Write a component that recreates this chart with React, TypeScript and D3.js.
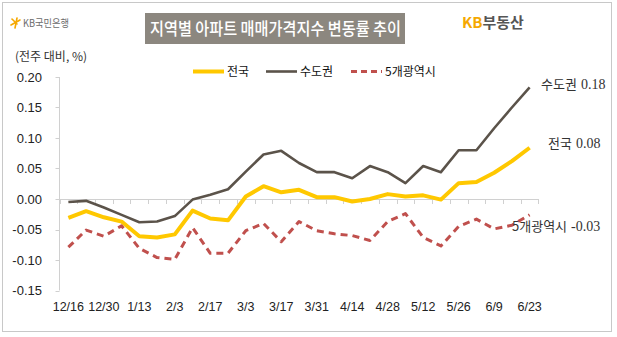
import React from 'react';
import * as d3 from 'd3';

const categories = ['12/16','12/23','12/30','1/6','1/13','1/20','2/3','2/10','2/17','2/24','3/3','3/10','3/17','3/24','3/31','4/7','4/14','4/21','4/28','5/5','5/12','5/19','5/26','6/2','6/9','6/16','6/23'];
const capital = [-0.005,-0.003,-0.014,-0.026,-0.038,-0.037,-0.028,-0.001,0.007,0.016,0.045,0.073,0.079,0.059,0.044,0.044,0.034,0.054,0.044,0.026,0.054,0.044,0.080,0.080,0.116,0.150,0.183];
const nation = [-0.031,-0.020,-0.030,-0.037,-0.061,-0.063,-0.058,-0.019,-0.032,-0.035,0.004,0.021,0.011,0.015,0.003,0.003,-0.004,0.000,0.008,0.004,0.006,-0.001,0.026,0.028,0.043,0.062,0.084];
const metro = [-0.079,-0.051,-0.061,-0.044,-0.081,-0.096,-0.099,-0.047,-0.089,-0.089,-0.052,-0.040,-0.070,-0.037,-0.052,-0.057,-0.060,-0.068,-0.037,-0.024,-0.063,-0.077,-0.045,-0.033,-0.049,-0.043,-0.026];
const yTicks = [0.20,0.15,0.10,0.05,0.00,-0.05,-0.10,-0.15];
const seriesNames = ['전국','수도권','5개광역시'];
const endNames = ['전국','수도권','5개광역시'];
const endValues = ['0.08','0.18','-0.03'];

const W = 617, H = 337;
const SANS = '"Liberation Sans", "Noto Sans CJK KR", sans-serif';
const KR = '"Noto Sans CJK KR", sans-serif';
const SERIF = '"Liberation Serif", "DejaVu Serif", serif';

export default function App() {
  const x = d3.scaleBand<string>().domain(categories).range([59.5, 538.5]).padding(0);
  const y = d3.scaleLinear().domain([-0.15, 0.20]).range([290.5, 77]);
  const cx = (i: number) => (x(categories[i]) as number) + x.bandwidth() / 2;
  const line = d3.line<number>().x((_, i) => cx(i)).y(d => y(d));

  const series = [
    { name: seriesNames[0], data: nation, color: '#FFC800', width: 4, dash: undefined as string | undefined },
    { name: seriesNames[1], data: capital, color: '#5B534A', width: 2.6, dash: undefined },
    { name: seriesNames[2], data: metro, color: '#C0504D', width: 3, dash: '7,5' },
  ];

  const y0 = y(0);
  const axisColor = '#d0d0d0';
  const endPos = [
    { x: 548, y: 148 },
    { x: 541, y: 89 },
    { x: 512, y: 231 },
  ];

  return (
    <svg width={W} height={H} style={{ position: 'absolute', left: 0, top: 0, background: '#fff' }}>
      <rect x={2.5} y={2.5} width={609} height={329} fill="#fff" stroke="#c8c8c8" strokeWidth={1} />

      {/* KB 국민은행 logo */}
      <g transform="translate(12,23)">
        <g stroke="#F5A800" strokeWidth={1.6} strokeLinecap="round">
          <line x1={0} y1={-4} x2={5} y2={1} />
          <line x1={5} y1={-5} x2={3} y2={5} />
          <line x1={-1} y1={2} x2={8} y2={-3} />
        </g>
        <text x={11} y={4} fontFamily={KR} fontSize={10.5} fill="#6b6b6b" textLength={46} lengthAdjust="spacingAndGlyphs">KB국민은행</text>
      </g>

      {/* Title */}
      <rect x={145} y={13} width={260} height={31} fill="#8C877F" />
      <text x={150} y={35} fontFamily={KR} fontSize={17} fontWeight={500} fill="#fff" textLength={251} lengthAdjust="spacingAndGlyphs">지역별 아파트 매매가격지수 변동률 추이</text>

      {/* KB부동산 */}
      <text x={462} y={28} fontFamily={KR} fontSize={15} fontWeight={700}>
        <tspan fill="#F5A800">KB</tspan><tspan fill="#555">부동산</tspan>
      </text>

      {/* unit */}
      <text x={15} y={61} fontFamily={KR} fontSize={12} fill="#333">(전주 대비, %)</text>

      {/* y axis */}
      <line x1={59.5} y1={y(0.2)} x2={59.5} y2={y(-0.15)} stroke={axisColor} />
      {yTicks.map(t => (
        <g key={t}>
          <line x1={55.5} x2={59.5} y1={Math.round(y(t)) + 0.5} y2={Math.round(y(t)) + 0.5} stroke={axisColor} />
          <text x={42} y={y(t) + 4.5} textAnchor="end" fontFamily={SANS} fontSize={13} fill="#222">{t.toFixed(2)}</text>
        </g>
      ))}

      {/* x axis at zero */}
      <line x1={59.5} x2={538.5} y1={Math.round(y0) + 0.5} y2={Math.round(y0) + 0.5} stroke={axisColor} />
      {categories.map(c => (
        <line key={'t' + c} x1={Math.round(x(c) as number) + 0.5} x2={Math.round(x(c) as number) + 0.5} y1={y0} y2={y0 + 5} stroke={axisColor} />
      ))}
      <line x1={538.5} x2={538.5} y1={y0} y2={y0 + 5} stroke={axisColor} />
      {categories.map((c, i) => i % 2 === 0 ? (
        <text key={'l' + c} x={cx(i)} y={311} textAnchor="middle" fontFamily={SANS} fontSize={12.5} fill="#222">{c}</text>
      ) : null)}

      {/* series */}
      {series.map(s => (
        <path key={s.name} d={line(s.data) || ''} fill="none" stroke={s.color} strokeWidth={s.width} strokeDasharray={s.dash} strokeLinejoin="round" />
      ))}

      {/* legend */}
      {series.map((s, i) => {
        const lx = [193, 266, 351][i];
        return (
          <g key={'lg' + s.name}>
            <line x1={lx} x2={lx + 31} y1={71.5} y2={71.5} stroke={s.color} strokeWidth={s.width} strokeDasharray={s.dash ? '6,4' : undefined} />
            <text x={lx + 34} y={76} fontFamily={KR} fontSize={12} fill="#111">{s.name}</text>
          </g>
        );
      })}

      {/* end labels */}
      {endNames.map((n, i) => (
        <text key={'e' + n} x={endPos[i].x} y={endPos[i].y} fontFamily={KR} fontSize={13} fill="#333">
          {n}<tspan fontFamily={SERIF} fontSize={14} dx={4}>{endValues[i]}</tspan>
        </text>
      ))}
    </svg>
  );
}
